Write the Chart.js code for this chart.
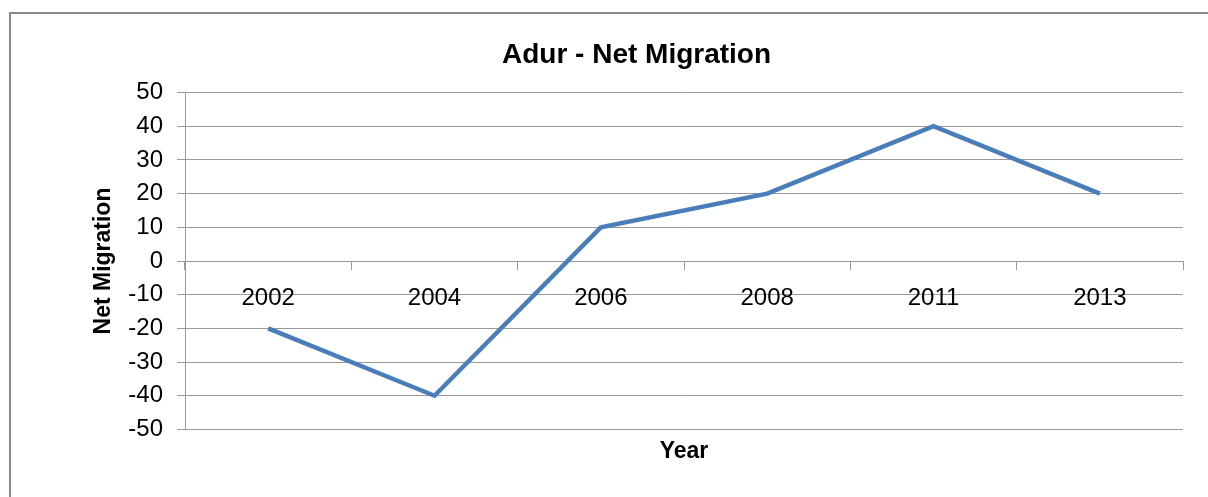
<!DOCTYPE html>
<html>
<head>
<meta charset="utf-8">
<script src="https://cdn.jsdelivr.net/npm/chart.js@4/dist/chart.umd.min.js"></script>
<style>
  body { margin: 0; background: #fff; }
  #wrap { position: relative; width: 1208px; height: 497px; overflow: hidden; }
  #frame { position: absolute; left: 9px; top: 12px; width: 1400px; height: 700px;
           border-top: 2px solid #8a8a8a; border-left: 2px solid #8a8a8a; }
  #chart { position: absolute; left: 0; top: 0; }
</style>
</head>
<body>
<div id="wrap">
  <div id="frame"></div>
  <canvas id="chart" width="1208" height="497"></canvas>
</div>
<script>
const years = ["2002", "2004", "2006", "2008", "2011", "2013"];
const netMigration = [-20, -40, 10, 20, 40, 20];
const yMin = -50;
const yMax = 50;
const yStep = 10;

const fontFamily = '"Liberation Sans", Arial, sans-serif';
const gridColor = "#999999";

function buildChart() {
    let config = {
        type: 'line',
        data: {
            labels: years,
            datasets: [{
                label: "Net Migration",
                data: netMigration,
                borderColor: "#4a7ebb",
                backgroundColor: "#4a7ebb",
                borderWidth: 4.5,
                pointRadius: 0,
                tension: 0,
                xAxisID: 'x',
                yAxisID: 'y'
            }]
        },
        options: {
            animation: false,
            responsive: false,
            layout: { padding: { left: 90, right: 25, top: 32, bottom: 28 } },
            plugins: {
                legend: { display: false },
                tooltip: { enabled: false },
                title: {
                    display: true,
                    text: "Adur - Net Migration",
                    color: "#000",
                    font: { family: fontFamily, size: 28, weight: 'bold' },
                    padding: { top: 6, bottom: 21 }
                }
            },
            scales: {
                x: {
                    type: 'category',
                    position: { y: 0 },
                    offset: true,
                    grid: {
                        offset: true,
                        drawOnChartArea: false,
                        drawTicks: true,
                        tickLength: 8,
                        color: gridColor
                    },
                    border: { display: true, color: gridColor },
                    ticks: {
                        color: "#000",
                        padding: 15,
                        maxRotation: 0,
                        font: { family: fontFamily, size: 24 }
                    }
                },
                xTitle: {
                    type: 'category',
                    position: 'bottom',
                    offset: true,
                    grid: { display: false },
                    border: { display: false },
                    ticks: { display: false },
                    title: {
                        display: true,
                        text: "Year",
                        color: "#000",
                        font: { family: fontFamily, size: 23, weight: 'bold' },
                        padding: { top: 0, bottom: 4 }
                    }
                },
                y: {
                    min: yMin,
                    max: yMax,
                    afterFit: (scale) => { scale.width = 95; },
                    grid: { color: gridColor, tickLength: 8 },
                    border: { display: true, color: gridColor },
                    ticks: {
                        stepSize: yStep,
                        color: "#000",
                        padding: 14,
                        font: { family: fontFamily, size: 24 }
                    },
                    title: {
                        display: true,
                        text: "Net Migration",
                        color: "#000",
                        font: { family: fontFamily, size: 23, weight: 'bold' },
                        padding: { top: 0, bottom: 0 }
                    }
                }
            }
        }
    };

    let old = Chart.getChart("chart");
    if (old != null) old.destroy();
    return new Chart(document.getElementById("chart"), config);
}

buildChart();
</script>
</body>
</html>
